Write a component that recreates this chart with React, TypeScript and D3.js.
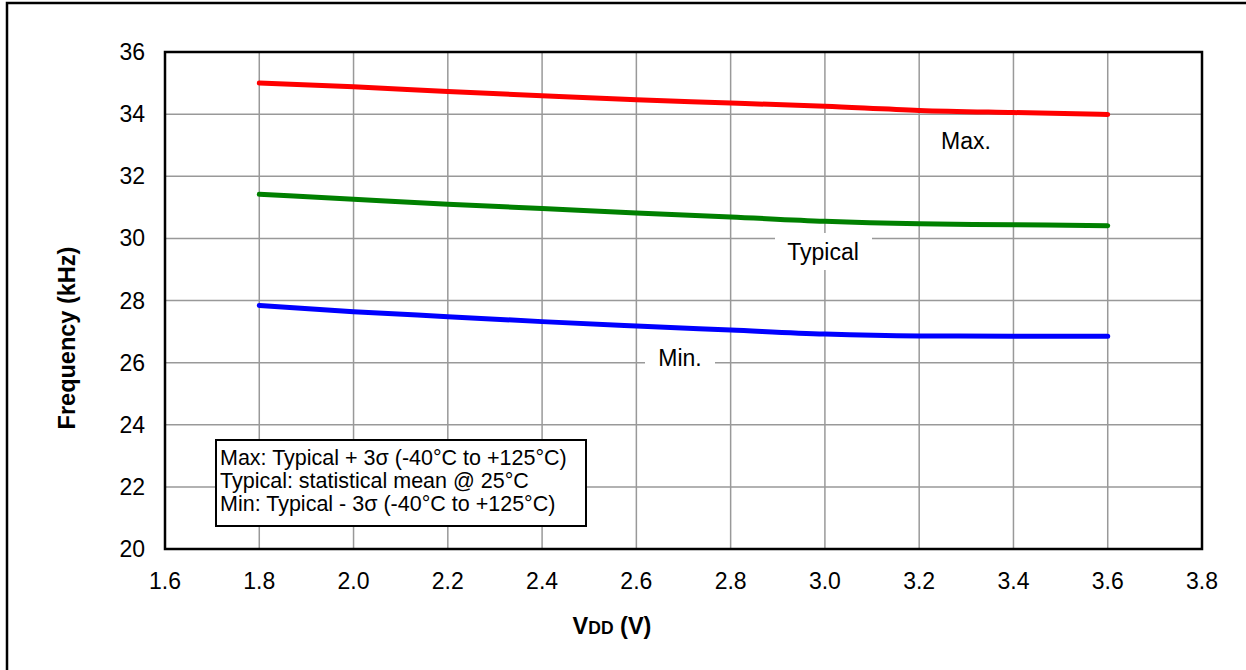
import React from "react";
import * as d3 from "d3";

const vdd = [1.8, 2.0, 2.2, 2.4, 2.6, 2.8, 3.0, 3.2, 3.4, 3.6];
const maxFreq = [35.0, 34.88, 34.73, 34.59, 34.46, 34.36, 34.25, 34.12, 34.05, 33.99];
const typFreq = [31.42, 31.26, 31.1, 30.96, 30.82, 30.69, 30.55, 30.47, 30.44, 30.41];
const minFreq = [27.84, 27.64, 27.48, 27.32, 27.18, 27.05, 26.92, 26.86, 26.85, 26.85];
const xTicks = [1.6, 1.8, 2.0, 2.2, 2.4, 2.6, 2.8, 3.0, 3.2, 3.4, 3.6, 3.8];
const yTicks = [20, 22, 24, 26, 28, 30, 32, 34, 36];
const legendLines = [
  "Max: Typical + 3\u03c3 (-40\u00b0C to +125\u00b0C)",
  "Typical: statistical mean @ 25\u00b0C",
  "Min: Typical - 3\u03c3 (-40\u00b0C to +125\u00b0C)",
];

const W = 1246, H = 670;
const L = 165, R = 1202, T = 52, B = 549;
const FONT = "'Liberation Sans', Arial, sans-serif";

export default function App() {
  const x = d3.scaleLinear().domain([1.6, 3.8]).range([L, R]);
  const y = d3.scaleLinear().domain([20, 36]).range([B, T]);
  const line = d3
    .line<number>()
    .x((_, i) => x(vdd[i]))
    .y((d) => y(d))
    .curve(d3.curveMonotoneX);

  const series = [
    { data: maxFreq, color: "#ff0000" },
    { data: typFreq, color: "#008000" },
    { data: minFreq, color: "#0000ff" },
  ];

  return (
    <svg
      width={W}
      height={H}
      style={{ position: "absolute", left: 0, top: 0, background: "#fff" }}
      fontFamily={FONT}
    >
      <rect x={0} y={0} width={W} height={H} fill="#fff" />
      <rect x={7} y={3} width={W + 20} height={H + 20} fill="none" stroke="#000" strokeWidth={2.5} />

      {/* grid */}
      {xTicks.slice(1, -1).map((t) => (
        <line key={"gx" + t} x1={x(t)} x2={x(t)} y1={T} y2={B} stroke="#999" strokeWidth={1.5} />
      ))}
      {yTicks.slice(1, -1).map((t) => (
        <line key={"gy" + t} x1={L} x2={R} y1={y(t)} y2={y(t)} stroke="#999" strokeWidth={1.5} />
      ))}

      {/* in-plot label backgrounds */}
      <rect x={775} y={233} width={97} height={37} fill="#fff" />
      <rect x={645} y={343} width={70} height={32} fill="#fff" />

      {series.map((s, i) => (
        <path
          key={i}
          d={line(s.data) || ""}
          fill="none"
          stroke={s.color}
          strokeWidth={5}
          strokeLinecap="round"
          strokeLinejoin="round"
        />
      ))}

      <text x={966} y={149} fontSize={23} textAnchor="middle">Max.</text>
      <text x={823} y={260} fontSize={23} textAnchor="middle">Typical</text>
      <text x={680} y={366} fontSize={23} textAnchor="middle">Min.</text>

      {/* legend box */}
      <rect x={216} y={440} width={370} height={86} fill="#fff" stroke="#000" strokeWidth={2} />
      {legendLines.map((s, i) => (
        <text key={i} x={220} y={465 + i * 23} fontSize={21.5}>{s}</text>
      ))}

      {/* plot frame */}
      <rect x={L} y={T} width={R - L} height={B - T} fill="none" stroke="#000" strokeWidth={2.5} />

      {/* ticks labels */}
      {yTicks.map((t) => (
        <text key={"yl" + t} x={145} y={y(t)} dy="0.35em" fontSize={23} textAnchor="end">
          {t}
        </text>
      ))}
      {xTicks.map((t) => (
        <text key={"xl" + t} x={x(t)} y={581} dy="0.35em" fontSize={23} textAnchor="middle">
          {t.toFixed(1)}
        </text>
      ))}

      <text
        transform={`translate(75,338) rotate(-90)`}
        fontSize={23.5}
        fontWeight="bold"
        textAnchor="middle"
      >
        Frequency (kHz)
      </text>
      <text x={612} y={634} fontSize={23.5} fontWeight="bold" textAnchor="middle">
        V<tspan fontSize={17.5}>DD</tspan> (V)
      </text>
    </svg>
  );
}
